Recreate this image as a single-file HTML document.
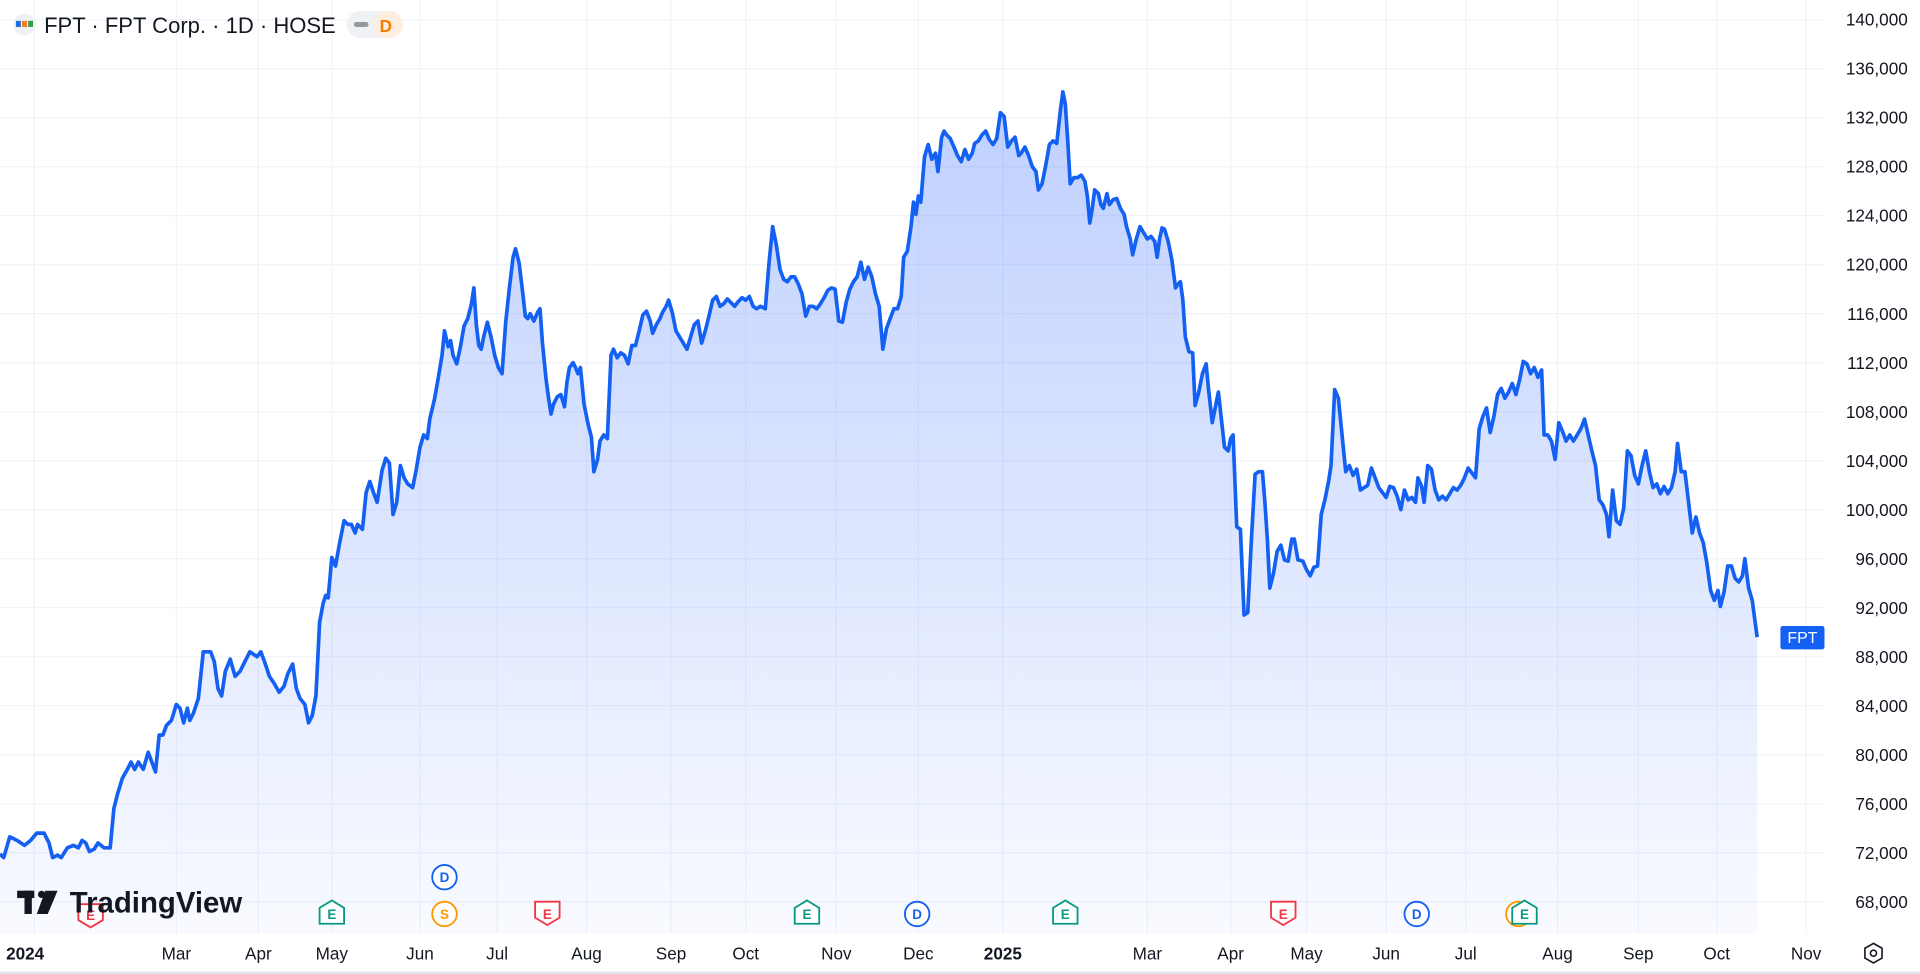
<!DOCTYPE html>
<html><head><meta charset="utf-8"><style>
html,body{margin:0;padding:0;background:#fff;}
svg{display:block;font-family:"Liberation Sans",sans-serif;}
</style></head><body>
<svg width="1920" height="974" viewBox="0 0 1568 795" preserveAspectRatio="none">
<defs>
<linearGradient id="g" x1="0" y1="0" x2="0" y2="1"><stop offset="0" stop-color="#2962ff" stop-opacity="0.3"/><stop offset="1" stop-color="#2962ff" stop-opacity="0.03"/></linearGradient>
</defs>
<rect width="1568" height="795" fill="#fff"/>
<g stroke="#f0f3fa" stroke-width="1">
<line x1="0" x2="1490" y1="16" y2="16"/><line x1="0" x2="1490" y1="56" y2="56"/><line x1="0" x2="1490" y1="96" y2="96"/><line x1="0" x2="1490" y1="136" y2="136"/><line x1="0" x2="1490" y1="176" y2="176"/><line x1="0" x2="1490" y1="216" y2="216"/><line x1="0" x2="1490" y1="256" y2="256"/><line x1="0" x2="1490" y1="296" y2="296"/><line x1="0" x2="1490" y1="336" y2="336"/><line x1="0" x2="1490" y1="376" y2="376"/><line x1="0" x2="1490" y1="416" y2="416"/><line x1="0" x2="1490" y1="456" y2="456"/><line x1="0" x2="1490" y1="496" y2="496"/><line x1="0" x2="1490" y1="536" y2="536"/><line x1="0" x2="1490" y1="576" y2="576"/><line x1="0" x2="1490" y1="616" y2="616"/><line x1="0" x2="1490" y1="656" y2="656"/><line x1="0" x2="1490" y1="696" y2="696"/><line x1="0" x2="1490" y1="736" y2="736"/>
<line y1="0" y2="762" x1="28" x2="28"/><line y1="0" y2="762" x1="144" x2="144"/><line y1="0" y2="762" x1="211" x2="211"/><line y1="0" y2="762" x1="271" x2="271"/><line y1="0" y2="762" x1="343" x2="343"/><line y1="0" y2="762" x1="406" x2="406"/><line y1="0" y2="762" x1="479" x2="479"/><line y1="0" y2="762" x1="548" x2="548"/><line y1="0" y2="762" x1="609" x2="609"/><line y1="0" y2="762" x1="683" x2="683"/><line y1="0" y2="762" x1="750" x2="750"/><line y1="0" y2="762" x1="819" x2="819"/><line y1="0" y2="762" x1="937" x2="937"/><line y1="0" y2="762" x1="1005" x2="1005"/><line y1="0" y2="762" x1="1067" x2="1067"/><line y1="0" y2="762" x1="1132" x2="1132"/><line y1="0" y2="762" x1="1197" x2="1197"/><line y1="0" y2="762" x1="1272" x2="1272"/><line y1="0" y2="762" x1="1338" x2="1338"/><line y1="0" y2="762" x1="1402" x2="1402"/><line y1="0" y2="762" x1="1475" x2="1475"/>
</g>
<path id="p" d="M0,697 L3,700 8,683 14,686 20,690 25,686 30,680 36,680 40,688 43,700 47,698 50,700 55,692 60,690 64,692 67,686 70,688 73,695 77,693 80,688 85,692 90,692 93,660 96,648 100,635 104,628 107,622 110,628 113,622 117,628 121,614 124,622 127,630 130,600 133,600 136,592 140,588 144,575 147,578 150,590 153,578 155,588 158,582 162,570 166,532 172,532 175,540 178,562 181,568 184,548 188,538 192,552 196,548 200,540 204,532 207,534 210,536 213,532 216,540 220,552 224,558 228,565 232,560 235,550 239,542 242,562 245,570 249,575 252,590 255,584 258,568 261,508 264,492 266,486 268,488 271,455 274,462 277,445 281,425 284,428 287,428 290,435 292,428 296,432 299,402 302,393 305,402 308,410 312,384 315,374 318,378 321,420 324,410 327,380 330,390 333,395 337,398 340,383 343,365 346,355 349,358 351,342 355,325 358,308 361,290 363,270 366,283 368,278 370,290 373,297 376,283 379,266 382,260 385,248 387,235 389,265 391,282 393,285 395,275 398,263 401,275 404,290 407,300 410,305 413,263 416,235 419,210 421,203 424,215 427,240 429,258 431,260 433,256 436,262 439,255 441,252 443,280 446,310 448,325 450,338 452,330 455,324 458,322 461,332 463,312 465,300 468,296 470,300 472,305 474,300 477,330 480,345 483,357 485,385 488,375 490,360 493,355 496,358 499,290 501,285 504,292 507,288 510,290 513,297 516,282 519,282 522,270 525,257 528,254 531,262 533,272 536,265 539,260 541,255 544,250 546,245 549,255 552,270 555,275 558,280 561,285 564,275 567,265 570,262 573,280 576,270 579,258 582,245 585,242 588,250 591,248 594,244 597,247 600,250 603,246 606,243 609,245 612,242 615,250 618,252 621,250 625,252 628,215 631,185 634,200 637,220 640,228 643,230 646,226 649,226 652,232 655,240 658,258 661,250 664,250 667,252 670,248 673,243 676,237 679,235 682,236 685,262 688,263 691,247 694,236 697,230 700,226 703,214 706,228 709,218 712,226 715,240 718,250 721,285 724,268 727,260 730,252 733,252 736,242 738,210 741,205 744,185 746,165 748,175 750,160 752,165 755,128 758,118 761,130 764,125 766,140 769,112 771,107 773,110 776,113 779,120 782,127 785,132 788,122 791,130 794,125 796,117 799,115 802,110 805,107 808,114 811,118 814,113 817,92 820,95 823,120 826,115 829,112 832,127 834,125 837,120 840,127 843,136 846,140 848,155 851,150 854,135 857,118 860,115 863,117 866,90 868,75 870,85 872,115 874,150 877,145 880,145 883,143 886,148 888,160 890,182 892,170 894,155 897,158 899,167 901,170 904,158 906,167 909,163 912,162 915,170 918,175 920,185 923,195 925,208 928,195 931,185 934,190 937,195 940,193 943,197 945,210 947,195 949,186 951,187 954,197 957,212 960,235 962,232 964,230 966,245 968,275 971,287 974,288 976,331 979,320 982,305 985,297 987,318 990,345 993,330 995,320 997,338 1000,365 1003,368 1005,358 1007,355 1010,430 1013,432 1016,502 1019,500 1022,440 1025,387 1028,385 1031,385 1033,410 1035,440 1037,480 1040,468 1043,450 1046,445 1049,457 1052,458 1055,440 1057,440 1060,457 1064,458 1067,465 1070,470 1073,463 1076,462 1079,420 1082,408 1085,393 1087,380 1090,318 1093,325 1096,355 1099,385 1102,380 1105,388 1108,383 1111,400 1114,398 1117,396 1120,382 1123,390 1126,398 1129,402 1132,406 1135,397 1138,398 1141,405 1144,416 1147,400 1150,408 1153,406 1156,410 1158,390 1161,397 1163,410 1166,380 1169,383 1172,400 1175,408 1178,405 1181,408 1184,403 1187,398 1190,400 1193,396 1196,390 1199,382 1202,386 1205,390 1208,350 1211,340 1214,333 1217,353 1220,340 1223,322 1226,317 1229,325 1232,320 1235,313 1238,322 1241,310 1244,295 1247,297 1250,305 1253,300 1256,308 1259,302 1261,355 1264,355 1267,360 1270,375 1273,345 1276,352 1279,360 1282,355 1285,360 1288,355 1291,350 1294,342 1297,355 1300,368 1303,380 1306,408 1309,412 1312,420 1314,438 1317,400 1320,425 1323,428 1326,415 1329,368 1332,372 1335,388 1338,395 1341,380 1344,368 1347,385 1350,398 1353,395 1356,403 1359,397 1362,403 1365,398 1368,385 1370,362 1373,385 1376,385 1379,410 1382,435 1385,422 1388,435 1391,443 1394,460 1397,482 1400,490 1403,482 1405,495 1408,483 1411,462 1414,462 1417,472 1420,475 1423,470 1425,456 1428,480 1431,490 1433,505 1435,520" fill="none"/>
<path d="M0,697 L3,700 8,683 14,686 20,690 25,686 30,680 36,680 40,688 43,700 47,698 50,700 55,692 60,690 64,692 67,686 70,688 73,695 77,693 80,688 85,692 90,692 93,660 96,648 100,635 104,628 107,622 110,628 113,622 117,628 121,614 124,622 127,630 130,600 133,600 136,592 140,588 144,575 147,578 150,590 153,578 155,588 158,582 162,570 166,532 172,532 175,540 178,562 181,568 184,548 188,538 192,552 196,548 200,540 204,532 207,534 210,536 213,532 216,540 220,552 224,558 228,565 232,560 235,550 239,542 242,562 245,570 249,575 252,590 255,584 258,568 261,508 264,492 266,486 268,488 271,455 274,462 277,445 281,425 284,428 287,428 290,435 292,428 296,432 299,402 302,393 305,402 308,410 312,384 315,374 318,378 321,420 324,410 327,380 330,390 333,395 337,398 340,383 343,365 346,355 349,358 351,342 355,325 358,308 361,290 363,270 366,283 368,278 370,290 373,297 376,283 379,266 382,260 385,248 387,235 389,265 391,282 393,285 395,275 398,263 401,275 404,290 407,300 410,305 413,263 416,235 419,210 421,203 424,215 427,240 429,258 431,260 433,256 436,262 439,255 441,252 443,280 446,310 448,325 450,338 452,330 455,324 458,322 461,332 463,312 465,300 468,296 470,300 472,305 474,300 477,330 480,345 483,357 485,385 488,375 490,360 493,355 496,358 499,290 501,285 504,292 507,288 510,290 513,297 516,282 519,282 522,270 525,257 528,254 531,262 533,272 536,265 539,260 541,255 544,250 546,245 549,255 552,270 555,275 558,280 561,285 564,275 567,265 570,262 573,280 576,270 579,258 582,245 585,242 588,250 591,248 594,244 597,247 600,250 603,246 606,243 609,245 612,242 615,250 618,252 621,250 625,252 628,215 631,185 634,200 637,220 640,228 643,230 646,226 649,226 652,232 655,240 658,258 661,250 664,250 667,252 670,248 673,243 676,237 679,235 682,236 685,262 688,263 691,247 694,236 697,230 700,226 703,214 706,228 709,218 712,226 715,240 718,250 721,285 724,268 727,260 730,252 733,252 736,242 738,210 741,205 744,185 746,165 748,175 750,160 752,165 755,128 758,118 761,130 764,125 766,140 769,112 771,107 773,110 776,113 779,120 782,127 785,132 788,122 791,130 794,125 796,117 799,115 802,110 805,107 808,114 811,118 814,113 817,92 820,95 823,120 826,115 829,112 832,127 834,125 837,120 840,127 843,136 846,140 848,155 851,150 854,135 857,118 860,115 863,117 866,90 868,75 870,85 872,115 874,150 877,145 880,145 883,143 886,148 888,160 890,182 892,170 894,155 897,158 899,167 901,170 904,158 906,167 909,163 912,162 915,170 918,175 920,185 923,195 925,208 928,195 931,185 934,190 937,195 940,193 943,197 945,210 947,195 949,186 951,187 954,197 957,212 960,235 962,232 964,230 966,245 968,275 971,287 974,288 976,331 979,320 982,305 985,297 987,318 990,345 993,330 995,320 997,338 1000,365 1003,368 1005,358 1007,355 1010,430 1013,432 1016,502 1019,500 1022,440 1025,387 1028,385 1031,385 1033,410 1035,440 1037,480 1040,468 1043,450 1046,445 1049,457 1052,458 1055,440 1057,440 1060,457 1064,458 1067,465 1070,470 1073,463 1076,462 1079,420 1082,408 1085,393 1087,380 1090,318 1093,325 1096,355 1099,385 1102,380 1105,388 1108,383 1111,400 1114,398 1117,396 1120,382 1123,390 1126,398 1129,402 1132,406 1135,397 1138,398 1141,405 1144,416 1147,400 1150,408 1153,406 1156,410 1158,390 1161,397 1163,410 1166,380 1169,383 1172,400 1175,408 1178,405 1181,408 1184,403 1187,398 1190,400 1193,396 1196,390 1199,382 1202,386 1205,390 1208,350 1211,340 1214,333 1217,353 1220,340 1223,322 1226,317 1229,325 1232,320 1235,313 1238,322 1241,310 1244,295 1247,297 1250,305 1253,300 1256,308 1259,302 1261,355 1264,355 1267,360 1270,375 1273,345 1276,352 1279,360 1282,355 1285,360 1288,355 1291,350 1294,342 1297,355 1300,368 1303,380 1306,408 1309,412 1312,420 1314,438 1317,400 1320,425 1323,428 1326,415 1329,368 1332,372 1335,388 1338,395 1341,380 1344,368 1347,385 1350,398 1353,395 1356,403 1359,397 1362,403 1365,398 1368,385 1370,362 1373,385 1376,385 1379,410 1382,435 1385,422 1388,435 1391,443 1394,460 1397,482 1400,490 1403,482 1405,495 1408,483 1411,462 1414,462 1417,472 1420,475 1423,470 1425,456 1428,480 1431,490 1433,505 1435,520 L1435,762 L0,762 Z" fill="url(#g)"/>
<use href="#p" stroke="#1460f2" stroke-width="3" stroke-linejoin="round" fill="none"/>
<!-- header -->
<circle cx="20" cy="20" r="9" fill="#eef2f7"/>
<rect x="13" y="17" width="4" height="5" fill="#1e6fd9"/><rect x="18" y="17" width="4" height="5" fill="#f47b20"/><rect x="23" y="17" width="4" height="5" fill="#2ca24c"/>
<text x="36" y="27" font-size="18" fill="#131722">FPT · FPT Corp. · 1D · HOSE</text>
<rect x="283" y="9" width="46" height="22" rx="11" fill="#f0f1f4"/>
<rect x="305" y="9" width="24" height="22" rx="11" fill="#fdeee0"/>
<rect x="289" y="18" width="12" height="4" rx="2" fill="#9598a1"/>
<text x="310" y="26" font-size="14" font-weight="bold" fill="#f57c00">D</text>
<!-- y axis -->
<g font-size="14" fill="#131722" text-anchor="end">
<text x="1558" y="21">140,000</text><text x="1558" y="61">136,000</text><text x="1558" y="101">132,000</text><text x="1558" y="141">128,000</text><text x="1558" y="181">124,000</text><text x="1558" y="221">120,000</text><text x="1558" y="261">116,000</text><text x="1558" y="301">112,000</text><text x="1558" y="341">108,000</text><text x="1558" y="381">104,000</text><text x="1558" y="421">100,000</text><text x="1558" y="461">96,000</text><text x="1558" y="501">92,000</text><text x="1558" y="541">88,000</text><text x="1558" y="581">84,000</text><text x="1558" y="621">80,000</text><text x="1558" y="661">76,000</text><text x="1558" y="701">72,000</text><text x="1558" y="741">68,000</text>
</g>
<rect x="1454" y="511" width="36" height="19" rx="2" fill="#1460f2"/>
<text x="1472" y="525" font-size="13" fill="#fff" text-anchor="middle">FPT</text>
<!-- x axis -->
<g font-size="14" fill="#131722" text-anchor="middle">
<text x="5" y="783" font-weight="bold" text-anchor="start">2024</text><text x="144" y="783">Mar</text><text x="211" y="783">Apr</text><text x="271" y="783">May</text><text x="343" y="783">Jun</text><text x="406" y="783">Jul</text><text x="479" y="783">Aug</text><text x="548" y="783">Sep</text><text x="609" y="783">Oct</text><text x="683" y="783">Nov</text><text x="750" y="783">Dec</text><text x="819" y="783" font-weight="bold">2025</text><text x="937" y="783">Mar</text><text x="1005" y="783">Apr</text><text x="1067" y="783">May</text><text x="1132" y="783">Jun</text><text x="1197" y="783">Jul</text><text x="1272" y="783">Aug</text><text x="1338" y="783">Sep</text><text x="1402" y="783">Oct</text><text x="1475" y="783">Nov</text>
</g>
<polygon points="1530,770 1537,774 1537,782 1530,786 1523,782 1523,774" fill="none" stroke="#131722" stroke-width="1.3"/>
<circle cx="1530" cy="778" r="2.5" fill="none" stroke="#131722" stroke-width="1.3"/>
<line x1="0" x2="1568" y1="794" y2="794" stroke="#e0e3eb" stroke-width="2"/>
<!-- events -->
<g font-size="11" font-weight="bold" text-anchor="middle" stroke-width="1.5">
<path d="M64,738 h20 v13 l-10,6 l-10,-6 z" fill="#fff" stroke="#f23645"/><text x="74" y="751" fill="#f23645">E</text>
<path d="M261,754 h20 v-13 l-10,-6 l-10,6 z" fill="#fff" stroke="#089981"/><text x="271" y="750" fill="#089981">E</text>
<path d="M437,736 h20 v13 l-10,6 l-10,-6 z" fill="#fff" stroke="#f23645"/><text x="447" y="750" fill="#f23645">E</text>
<path d="M649,754 h20 v-13 l-10,-6 l-10,6 z" fill="#fff" stroke="#089981"/><text x="659" y="750" fill="#089981">E</text>
<path d="M860,754 h20 v-13 l-10,-6 l-10,6 z" fill="#fff" stroke="#089981"/><text x="870" y="750" fill="#089981">E</text>
<path d="M1038,736 h20 v13 l-10,6 l-10,-6 z" fill="#fff" stroke="#f23645"/><text x="1048" y="750" fill="#f23645">E</text>
<circle cx="1240" cy="746" r="10" fill="#fff" stroke="#ff9800"/>
<path d="M1235,754 h20 v-13 l-10,-6 l-10,6 z" fill="#fff" stroke="#089981"/><text x="1245" y="750" fill="#089981">E</text>
<circle cx="363" cy="716" r="10" fill="#fff" stroke="#1460f2"/><text x="363" y="720" fill="#1460f2">D</text>
<circle cx="363" cy="746" r="10" fill="#fff" stroke="#ff9800"/><text x="363" y="750" fill="#ff9800">S</text>
<circle cx="749" cy="746" r="10" fill="#fff" stroke="#1460f2"/><text x="749" y="750" fill="#1460f2">D</text>
<circle cx="1157" cy="746" r="10" fill="#fff" stroke="#1460f2"/><text x="1157" y="750" fill="#1460f2">D</text>
</g>
<!-- logo -->
<rect x="14" y="727" width="14" height="6" fill="#131722"/><rect x="20" y="727" width="6" height="19" fill="#131722"/>
<circle cx="34" cy="730" r="3" fill="#131722"/><path d="M37,727 h10 l-8,19 h-9 z" fill="#131722"/>
<text x="57" y="745" font-size="24" font-weight="bold" fill="#131722">TradingView</text>
</svg>
</body></html>
